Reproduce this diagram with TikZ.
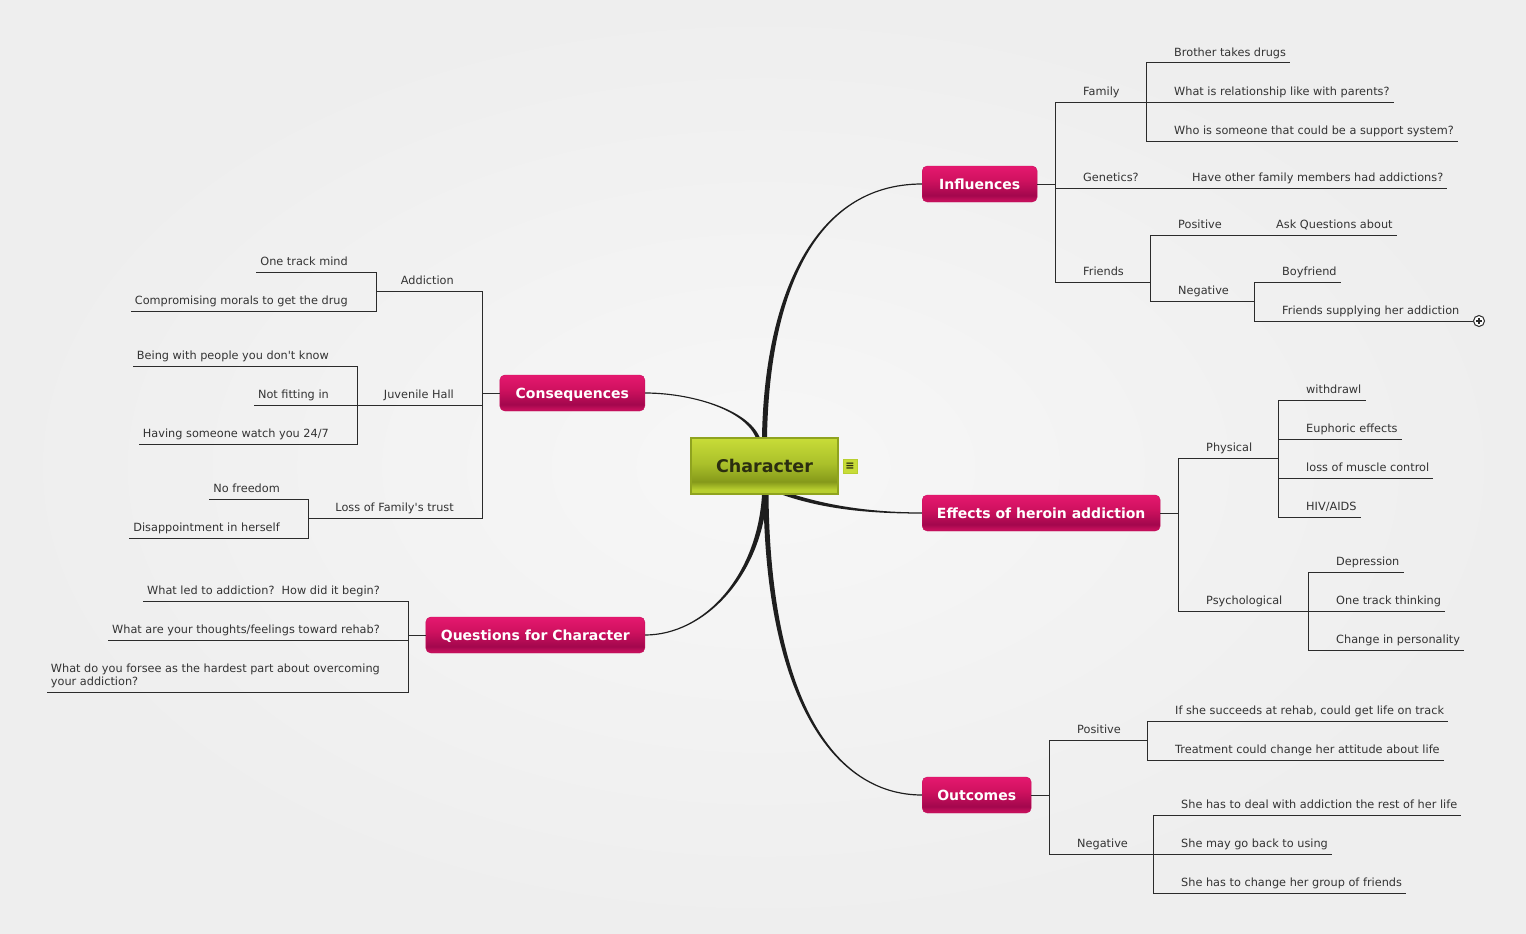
\documentclass[tikz,border=0pt]{standalone}
\usepackage{fontspec}
\setmainfont{DejaVu Sans}[Ligatures=TeXOff]
\usetikzlibrary{backgrounds}
\definecolor{canvasin}{HTML}{F7F7F7}
\definecolor{canvasout}{HTML}{EEEEEE}
\definecolor{chartop}{HTML}{C8DC38}
\definecolor{charmid}{HTML}{AAC02A}
\definecolor{chardark}{HTML}{85991A}
\definecolor{charband}{HTML}{B8CF2F}
\definecolor{charedge}{HTML}{8FA31F}
\definecolor{chartext}{HTML}{2B2E10}
\definecolor{pinktop}{HTML}{E5186F}
\definecolor{pinkmid}{HTML}{CF115F}
\definecolor{pinkdark}{HTML}{A3074D}
\definecolor{pinkband}{HTML}{C30F5B}
\definecolor{pinkedge}{HTML}{C8125F}
\definecolor{leaftext}{HTML}{333333}
\definecolor{linegray}{HTML}{2B2B2B}
\definecolor{stemblack}{HTML}{1E1E1E}
\pgfdeclareverticalshading{charshade}{100bp}{color(0bp)=(charband); color(25bp)=(charband); color(29bp)=(charband); color(36bp)=(chardark); color(52bp)=(charmid); color(75bp)=(chartop); color(100bp)=(chartop)}
\pgfdeclareverticalshading{topicshade}{100bp}{color(0bp)=(pinkband); color(25bp)=(pinkband); color(28bp)=(pinkband); color(34bp)=(pinkdark); color(55bp)=(pinkmid); color(75bp)=(pinktop); color(100bp)=(pinktop)}

\begin{document}
\begin{tikzpicture}[x=1pt, y=-1pt,
  centre/.style={rectangle, shading=charshade, draw=charedge, line width=2pt, minimum width=147pt, minimum height=56pt, inner sep=0pt, text height=12.8pt, text depth=0pt, text=chartext, font=\fontsize{17.5pt}{20pt}\selectfont\bfseries},
  topic/.style={rounded corners=5pt, shading=topicshade, draw=pinkedge, minimum height=36pt, inner sep=0pt, text height=10.2pt, text depth=0pt, text=white, font=\fontsize{14pt}{16pt}\selectfont\bfseries},
  leaf/.style={anchor=south west, inner xsep=0pt, inner ysep=4pt, text depth=0.45ex, text=leaftext, font=\fontsize{11.3pt}{13pt}\selectfont},
  leafl/.style={leaf, anchor=south east},
  branch/.style={draw=linegray, line width=1pt},
  stem/.style={fill=stemblack},
  noteicon/.style={rectangle, fill=chartop, draw=charband, line width=1pt, minimum size=14pt, inner sep=0pt, text=chartext, font=\fontsize{11pt}{11pt}\selectfont\bfseries},
  expander/.style={circle, draw=linegray, fill=white, line width=1pt, minimum size=11pt, inner sep=0pt}
]
\useasboundingbox (0,0) rectangle (1526,934);
\begin{scope}[on background layer]
\shade[inner color=canvasin, outer color=canvasout] (0,0) rectangle (1526,934);
\end{scope}

% centre and main topics
\node[centre] (char) at (764.5,466) {Character};
\node[noteicon] (note) at (850,466) {≡};
\node[topic, anchor=west, minimum width=115pt] (inf) at (922,184) {Influences};
\node[topic, anchor=east, minimum width=145pt] (cons) at (645,393) {Consequences};
\node[topic, anchor=west, minimum width=238pt] (eff) at (922,513) {Effects of heroin addiction};
\node[topic, anchor=east, minimum width=219pt] (quest) at (645,635) {Questions for Character};
\node[topic, anchor=west, minimum width=109pt] (out) at (922,795) {Outcomes};

% Influences
\coordinate (inffork) at (1055,184);
\coordinate (famfork) at (1146,102);
\coordinate (frifork) at (1150,282);
\coordinate (negfork) at (1254,301);
\node[leaf] (fam) at (1083,102) {Family};
\node[leaf] (bro) at (1174,63) {Brother takes drugs};
\node[leaf] (par) at (1174,102) {What is relationship like with parents?};
\node[leaf] (sup) at (1174,141) {Who is someone that could be a support system?};
\node[leaf] (gen) at (1083,188) {Genetics?};
\node[leaf] (gen1) at (1192,188) {Have other family members had addictions?};
\node[leaf] (fri) at (1083,282) {Friends};
\node[leaf] (pos) at (1178,235) {Positive};
\node[leaf] (ask) at (1276,235) {Ask Questions about};
\node[leaf] (neg) at (1178,301) {Negative};
\node[leaf] (boy) at (1282,282) {Boyfriend};
\node[leaf] (sply) at (1282,321) {Friends supplying her addiction};
\node[expander] (more) at (1479,321) {};
\draw[linegray, line width=1.3pt] ([xshift=-3pt]more.center) -- ([xshift=3pt]more.center);
\draw[linegray, line width=1.3pt] ([yshift=-3pt]more.center) -- ([yshift=3pt]more.center);

\draw[branch] (inf.east) -- (inffork);
\draw[branch] (inffork) |- (famfork);
\draw[branch] (famfork) |- ([xshift=4pt]bro.south east);
\draw[branch] (famfork) |- ([xshift=4pt]par.south east);
\draw[branch] (famfork) |- ([xshift=4pt]sup.south east);
\draw[branch] (inffork) |- ([xshift=4pt]gen1.south east);
\draw[branch] (inffork) |- (frifork);
\draw[branch] (frifork) |- ([xshift=4pt]ask.south east);
\draw[branch] (frifork) |- (negfork);
\draw[branch] (negfork) |- ([xshift=4pt]boy.south east);
\draw[branch] (negfork) |- (more.west);

% Consequences
\coordinate (consfork) at (482,393);
\coordinate (addfork) at (376,291);
\coordinate (juvfork) at (357,405);
\coordinate (losfork) at (308,518);
\node[leafl] (add) at (454,291) {Addiction};
\node[leafl] (one) at (348,272) {One track mind};
\node[leafl] (mor) at (348,311) {Compromising morals to get the drug};
\node[leafl] (juv) at (454,405) {Juvenile Hall};
\node[leafl] (bei) at (329,366) {Being with people you don't know};
\node[leafl] (fit) at (329,405) {Not fitting in};
\node[leafl] (wat) at (329,444) {Having someone watch you 24/7};
\node[leafl] (los) at (454,518) {Loss of Family's trust};
\node[leafl] (fre) at (280,499) {No freedom};
\node[leafl] (dis) at (280,538) {Disappointment in herself};

\draw[branch] (cons.west) -- (consfork);
\draw[branch] (consfork) |- (addfork);
\draw[branch] (addfork) |- ([xshift=-4pt]one.south west);
\draw[branch] (addfork) |- ([xshift=-4pt]mor.south west);
\draw[branch] (consfork) |- (juvfork);
\draw[branch] (juvfork) |- ([xshift=-4pt]bei.south west);
\draw[branch] (juvfork) |- ([xshift=-4pt]fit.south west);
\draw[branch] (juvfork) |- ([xshift=-4pt]wat.south west);
\draw[branch] (consfork) |- (losfork);
\draw[branch] (losfork) |- ([xshift=-4pt]fre.south west);
\draw[branch] (losfork) |- ([xshift=-4pt]dis.south west);

% Questions for Character
\coordinate (qfork) at (408,635);
\node[leafl] (q1) at (380,601) {What led to addiction?\ \ How did it begin?};
\node[leafl] (q2) at (380,640) {What are your thoughts/feelings toward rehab?};
\node[leafl, align=left] (q3) at (380,692) {What do you forsee as the hardest part about overcoming\\your addiction?};

\draw[branch] (quest.west) -- (qfork);
\draw[branch] (qfork) |- ([xshift=-4pt]q1.south west);
\draw[branch] (qfork) |- ([xshift=-4pt]q2.south west);
\draw[branch] (qfork) |- ([xshift=-4pt]q3.south west);

% Effects of heroin addiction
\coordinate (efffork) at (1178,513);
\coordinate (phyfork) at (1278,458);
\coordinate (psyfork) at (1308,611);
\node[leaf] (phy) at (1206,458) {Physical};
\node[leaf] (wd) at (1306,400) {withdrawl};
\node[leaf] (eu) at (1306,439) {Euphoric effects};
\node[leaf] (mus) at (1306,478) {loss of muscle control};
\node[leaf] (hiv) at (1306,517) {HIV/AIDS};
\node[leaf] (psy) at (1206,611) {Psychological};
\node[leaf] (dep) at (1336,572) {Depression};
\node[leaf] (otk) at (1336,611) {One track thinking};
\node[leaf] (chg) at (1336,650) {Change in personality};

\draw[branch] (eff.east) -- (efffork);
\draw[branch] (efffork) |- (phyfork);
\draw[branch] (phyfork) |- ([xshift=4pt]wd.south east);
\draw[branch] (phyfork) |- ([xshift=4pt]eu.south east);
\draw[branch] (phyfork) |- ([xshift=4pt]mus.south east);
\draw[branch] (phyfork) |- ([xshift=4pt]hiv.south east);
\draw[branch] (efffork) |- (psyfork);
\draw[branch] (psyfork) |- ([xshift=4pt]dep.south east);
\draw[branch] (psyfork) |- ([xshift=4pt]otk.south east);
\draw[branch] (psyfork) |- ([xshift=4pt]chg.south east);

% Outcomes
\coordinate (outfork) at (1049,795);
\coordinate (oposfork) at (1147,740);
\coordinate (onegfork) at (1153,854);
\node[leaf] (opos) at (1077,740) {Positive};
\node[leaf] (suc) at (1175,721) {If she succeeds at rehab, could get life on track};
\node[leaf] (trt) at (1175,760) {Treatment could change her attitude about life};
\node[leaf] (oneg) at (1077,854) {Negative};
\node[leaf] (dea) at (1181,815) {She has to deal with addiction the rest of her life};
\node[leaf] (bac) at (1181,854) {She may go back to using};
\node[leaf] (grp) at (1181,893) {She has to change her group of friends};

\draw[branch] (out.east) -- (outfork);
\draw[branch] (outfork) |- (oposfork);
\draw[branch] (oposfork) |- ([xshift=4pt]suc.south east);
\draw[branch] (oposfork) |- ([xshift=4pt]trt.south east);
\draw[branch] (outfork) |- (onegfork);
\draw[branch] (onegfork) |- ([xshift=4pt]dea.south east);
\draw[branch] (onegfork) |- ([xshift=4pt]bac.south east);
\draw[branch] (onegfork) |- ([xshift=4pt]grp.south east);

% tapered stems from the centre
\begin{scope}[on background layer]
\fill[stem] ([xshift=-2.5pt]char.north) .. controls +(2.5,-138) and +(-110,0) .. ([yshift=0.6pt]inf.west)
  -- ([yshift=-0.6pt]inf.west) .. controls +(-110,0) and +(2.5,-138) .. ([xshift=2.5pt]char.north) -- cycle;
\fill[stem] ([xshift=-9pt]char.north) .. controls +(-12,-28) and +(45,0) .. ([yshift=-0.6pt]cons.east)
  -- ([yshift=0.6pt]cons.east) .. controls +(45,0) and +(-12,-28) .. ([xshift=-5pt]char.north) -- cycle;
\fill[stem] ([xshift=15.5pt,yshift=5pt]char.south) .. controls +(45,16) and +(-50,0) .. ([yshift=0.6pt]eff.west)
  -- ([yshift=-0.6pt]eff.west) .. controls +(-50,0) and +(45,16) .. ([xshift=15.5pt,yshift=1pt]char.south) -- cycle;
\fill[stem] ([xshift=2.5pt]char.south) .. controls +(-5,80) and +(60,0) .. ([yshift=-0.6pt]quest.east)
  -- ([yshift=0.6pt]quest.east) .. controls +(60,0) and +(-5,80) .. ([xshift=-2.5pt]char.south) -- cycle;
\fill[stem] ([xshift=4pt]char.south) .. controls +(2,200) and +(-90,0) .. ([yshift=0.6pt]out.west)
  -- ([yshift=-0.6pt]out.west) .. controls +(-90,0) and +(2,200) .. ([xshift=-1pt]char.south) -- cycle;
\end{scope}
\end{tikzpicture}
\end{document}
